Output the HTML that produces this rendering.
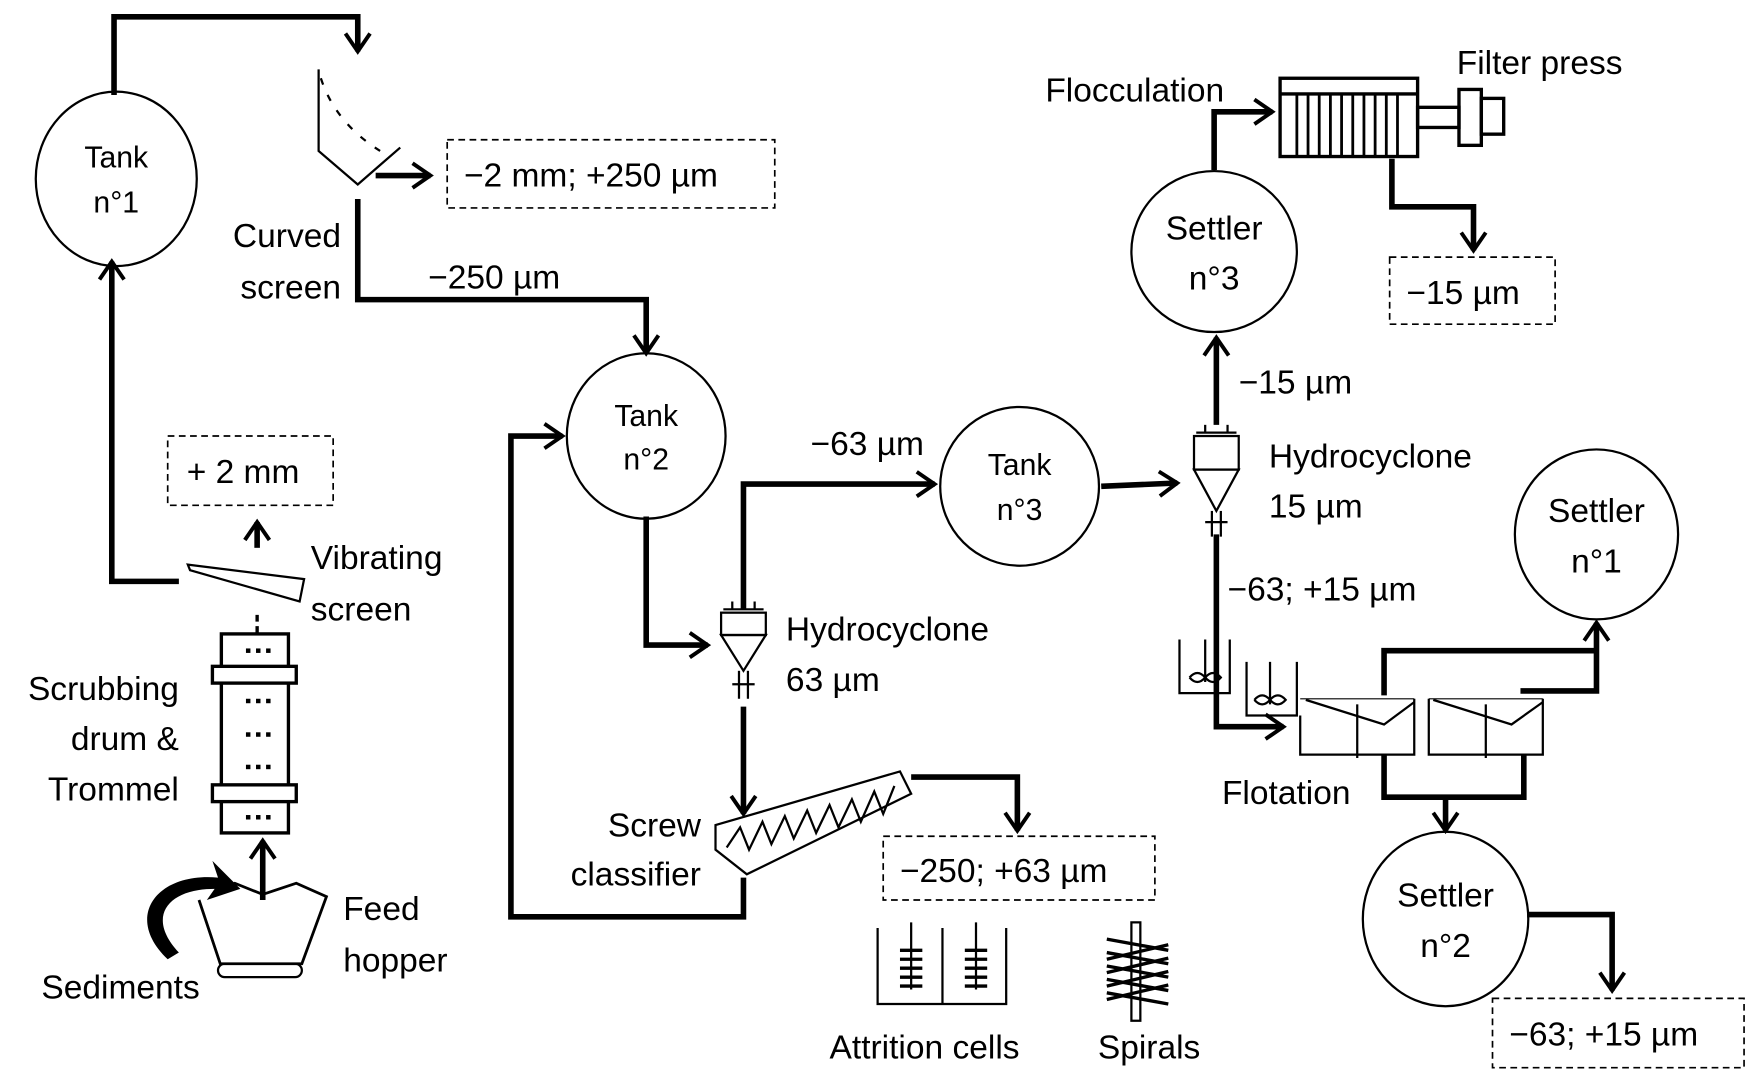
<!DOCTYPE html>
<html><head><meta charset="utf-8"><style>
html,body{margin:0;padding:0;background:#fff}
svg{display:block}
text{font-family:"Liberation Sans",sans-serif;fill:#000}
</style></head><body>
<svg width="1753" height="1080" viewBox="0 0 1568 966" preserveAspectRatio="none" xmlns="http://www.w3.org/2000/svg">
<defs>
<marker id="a" viewBox="-20 -14 22 28" refX="0" refY="0" markerWidth="22" markerHeight="28" orient="auto" markerUnits="userSpaceOnUse" style="overflow:visible">
<path d="M-16,-11 L0,0 L-16,11" fill="none" stroke="#000" stroke-width="3.5"/>
</marker>
</defs>
<g fill="none" stroke="#000" stroke-width="5" stroke-linejoin="miter">
<polyline points="102,85 102,15 320,15 320,46" marker-end="url(#a)"/>
<polyline points="336,157 385,157" marker-end="url(#a)"/>
<polyline points="320,178 320,268 578,268 578,316" marker-end="url(#a)"/>
<polyline points="578,462 578,577 633,577" marker-end="url(#a)"/>
<polyline points="665,545 665,433 836,433" marker-end="url(#a)"/>
<polyline points="985,435 1053,432" marker-end="url(#a)"/>
<polyline points="1088,380 1088,302" marker-end="url(#a)"/>
<polyline points="1086,152 1086,100 1138,100" marker-end="url(#a)"/>
<polyline points="1245,142 1245,185 1318,185 1318,224" marker-end="url(#a)"/>
<polyline points="1088,478 1088,650 1148,650" marker-end="url(#a)"/>
<polyline points="1238,622 1238,582 1428,582"/>
<polyline points="1360,618 1428,618 1428,557" marker-end="url(#a)"/>
<polyline points="1238,675 1238,713 1363,713 1363,675"/>
<polyline points="1293,713 1293,743" marker-end="url(#a)"/>
<polyline points="1366,818 1442,818 1442,886" marker-end="url(#a)"/>
<polyline points="665,632 665,728" marker-end="url(#a)"/>
<polyline points="815,695 910,695 910,743" marker-end="url(#a)"/>
<polyline points="665,785 665,820 457,820 457,390 503,390" marker-end="url(#a)"/>
<polyline points="160,520 100,520 100,234" marker-end="url(#a)"/>
<polyline points="230,490 230,467" marker-end="url(#a)"/>
<polyline points="235,805 235,752" marker-end="url(#a)"/>
</g>
<g fill="none" stroke="#000" stroke-width="2">
<ellipse cx="104" cy="160" rx="72" ry="78"/>
<ellipse cx="578" cy="390" rx="71" ry="74"/>
<ellipse cx="912" cy="435" rx="71" ry="71"/>
<ellipse cx="1086" cy="225" rx="74" ry="72"/>
<ellipse cx="1428" cy="478" rx="73" ry="76"/>
<ellipse cx="1293" cy="822" rx="74" ry="78"/>
<g stroke-dasharray="6,4" stroke-width="1.5">
<rect x="400" y="125" width="293" height="61"/>
<rect x="150" y="390" width="148" height="62"/>
<rect x="1243" y="230" width="148" height="60"/>
<rect x="790" y="748" width="243" height="57"/>
<rect x="1335" y="893" width="225" height="62"/>
<line x1="230" y1="550" x2="230" y2="566" stroke-width="3"/>
</g>
<polyline points="285,62 285,135 320,165 358,132"/>
<path d="M287,70 Q300,110 340,135" stroke-dasharray="6,10"/>
<g transform="translate(665,0)">
<line x1="-18" y1="545" x2="18" y2="545"/><line x1="-10" y1="538" x2="-10" y2="545"/><line x1="10" y1="538" x2="10" y2="545"/>
<rect x="-20" y="548" width="40" height="20"/>
<polygon points="-20,568 20,568 0,600"/>
<line x1="-10" y1="612" x2="10" y2="612"/><line x1="-4" y1="600" x2="-4" y2="625"/><line x1="4" y1="600" x2="4" y2="625"/>
</g>
<g transform="translate(1088,-158)">
<line x1="-18" y1="545" x2="18" y2="545"/><line x1="-10" y1="538" x2="-10" y2="545"/><line x1="10" y1="538" x2="10" y2="545"/>
<rect x="-20" y="548" width="40" height="30"/>
<polygon points="-20,578 20,578 0,615"/>
<line x1="-10" y1="625" x2="10" y2="625"/><line x1="-4" y1="615" x2="-4" y2="638"/><line x1="4" y1="615" x2="4" y2="638"/>
</g>
<rect x="1145" y="70" width="123" height="70" stroke-width="3"/>
<line x1="1145" y1="84" x2="1268" y2="84" stroke-width="3"/>
<g stroke-width="2.5">
<line x1="1160" y1="84" x2="1160" y2="140"/><line x1="1170" y1="84" x2="1170" y2="140"/><line x1="1180" y1="84" x2="1180" y2="140"/><line x1="1190" y1="84" x2="1190" y2="140"/><line x1="1200" y1="84" x2="1200" y2="140"/><line x1="1210" y1="84" x2="1210" y2="140"/><line x1="1220" y1="84" x2="1220" y2="140"/><line x1="1230" y1="84" x2="1230" y2="140"/><line x1="1240" y1="84" x2="1240" y2="140"/><line x1="1250" y1="84" x2="1250" y2="140"/>
</g>
<rect x="1268" y="96" width="37" height="18" stroke-width="3"/>
<rect x="1305" y="80" width="20" height="50" stroke-width="3"/>
<rect x="1325" y="88" width="20" height="32" stroke-width="3"/>
<polyline points="1055,572 1055,620 1100,620 1100,572"/>
<line x1="1078" y1="572" x2="1078" y2="610"/><path d="M1064,606 q7,-8 14,0 q7,8 14,0 q-7,-8 -14,0 q-7,8 -14,0"/>
<polyline points="1115,592 1115,640 1160,640 1160,592"/>
<line x1="1136" y1="592" x2="1136" y2="630"/><path d="M1122,626 q7,-8 14,0 q7,8 14,0 q-7,-8 -14,0 q-7,8 -14,0"/>
<polyline points="1163,640 1163,675 1265,675 1265,625"/><line x1="1214" y1="630" x2="1214" y2="678"/>
<polyline points="1168,626 1238,648 1265,628"/><line x1="1163" y1="625" x2="1265" y2="625" stroke-width="1"/>
<polyline points="1278,625 1278,675 1380,675 1380,625"/><line x1="1329" y1="630" x2="1329" y2="678"/>
<polyline points="1282,626 1352,648 1380,628"/><line x1="1278" y1="625" x2="1380" y2="625" stroke-width="1"/>
<polygon points="640,738 805,690 815,710 668,782 640,760"/>
<polyline points="650,758 662,740 670,760 682,735 690,755 702,730 710,750 722,725 730,745 742,720 750,740 762,715 770,735 782,708 790,728 800,703"/>
<polyline points="785,830 785,898 900,898 900,830"/><line x1="843" y1="830" x2="843" y2="898"/>
<line x1="815" y1="825" x2="815" y2="885"/><line x1="873" y1="825" x2="873" y2="885"/>
<g stroke-width="3"><line x1="805" y1="850" x2="825" y2="850"/><line x1="805" y1="858" x2="825" y2="858"/><line x1="805" y1="866" x2="825" y2="866"/><line x1="805" y1="874" x2="825" y2="874"/><line x1="805" y1="882" x2="825" y2="882"/>
<line x1="863" y1="850" x2="883" y2="850"/><line x1="863" y1="858" x2="883" y2="858"/><line x1="863" y1="866" x2="883" y2="866"/><line x1="863" y1="874" x2="883" y2="874"/><line x1="863" y1="882" x2="883" y2="882"/></g>
<rect x="1012" y="825" width="8" height="88"/>
<g stroke-width="3"><path d="M990,840 L1045,850 M990,852 L1045,862 M990,864 L1045,874 M990,876 L1045,886 M990,888 L1045,898 M1045,845 L990,858 M1045,857 L990,870 M1045,869 L990,882 M1045,881 L990,894"/></g>
<polygon points="168,505 272,518 268,538 170,510"/>
<rect x="198" y="567" width="60" height="178" stroke-width="3"/>
<rect x="190" y="596" width="75" height="15" stroke-width="3" fill="#fff"/>
<rect x="190" y="702" width="75" height="15" stroke-width="3" fill="#fff"/>
<polyline points="178,805 197,862 270,862 292,802 265,790 235,800 210,790 190,800" stroke-width="2.5"/>
<rect x="195" y="862" width="75" height="12" rx="6"/>
</g>
<g fill="#000">
<g><rect x="220" y="580" width="4" height="4"/><rect x="229" y="580" width="4" height="4"/><rect x="238" y="580" width="4" height="4"/>
<rect x="220" y="625" width="4" height="4"/><rect x="229" y="625" width="4" height="4"/><rect x="238" y="625" width="4" height="4"/>
<rect x="220" y="655" width="4" height="4"/><rect x="229" y="655" width="4" height="4"/><rect x="238" y="655" width="4" height="4"/>
<rect x="220" y="684" width="4" height="4"/><rect x="229" y="684" width="4" height="4"/><rect x="238" y="684" width="4" height="4"/>
<rect x="220" y="729" width="4" height="4"/><rect x="229" y="729" width="4" height="4"/><rect x="238" y="729" width="4" height="4"/></g>
<path d="M150,858 C110,820 140,780 195,785 L190,770 L215,795 L185,805 L192,795 C150,795 130,820 160,852 Z"/>
</g>
<g font-size="27" text-anchor="middle">
<text x="104" y="150">Tank</text><text x="104" y="190">n°1</text>
<text x="578" y="381">Tank</text><text x="578" y="420">n°2</text>
<text x="912" y="425">Tank</text><text x="912" y="465">n°3</text>
</g>
<g font-size="30">
<text x="1086" y="214" text-anchor="middle">Settler</text><text x="1086" y="259" text-anchor="middle">n°3</text>
<text x="1428" y="467" text-anchor="middle">Settler</text><text x="1428" y="512" text-anchor="middle">n°1</text>
<text x="1293" y="811" text-anchor="middle">Settler</text><text x="1293" y="856" text-anchor="middle">n°2</text>
<text x="415" y="167">−2 mm; +250 µm</text>
<text x="305" y="221" text-anchor="end">Curved</text><text x="305" y="267" text-anchor="end">screen</text>
<text x="383" y="258">−250 µm</text>
<text x="725" y="407">−63 µm</text>
<text x="167" y="432">+ 2 mm</text>
<text x="278" y="509">Vibrating</text><text x="278" y="555">screen</text>
<text x="160" y="626" text-anchor="end">Scrubbing</text><text x="160" y="671" text-anchor="end">drum &amp;</text><text x="160" y="716" text-anchor="end">Trommel</text>
<text x="307" y="823">Feed</text><text x="307" y="869">hopper</text>
<text x="37" y="893">Sediments</text>
<text x="703" y="573">Hydrocyclone</text><text x="703" y="618">63 µm</text>
<text x="627" y="748" text-anchor="end">Screw</text><text x="627" y="792" text-anchor="end">classifier</text>
<text x="805" y="789">−250; +63 µm</text>
<text x="742" y="947">Attrition cells</text>
<text x="982" y="947">Spirals</text>
<text x="935" y="91">Flocculation</text>
<text x="1303" y="66">Filter press</text>
<text x="1258" y="272">−15 µm</text>
<text x="1108" y="352">−15 µm</text>
<text x="1135" y="418">Hydrocyclone</text><text x="1135" y="463">15 µm</text>
<text x="1098" y="537">−63; +15 µm</text>
<text x="1093" y="719">Flotation</text>
<text x="1350" y="935">−63; +15 µm</text>
</g>
</svg>
</body></html>
